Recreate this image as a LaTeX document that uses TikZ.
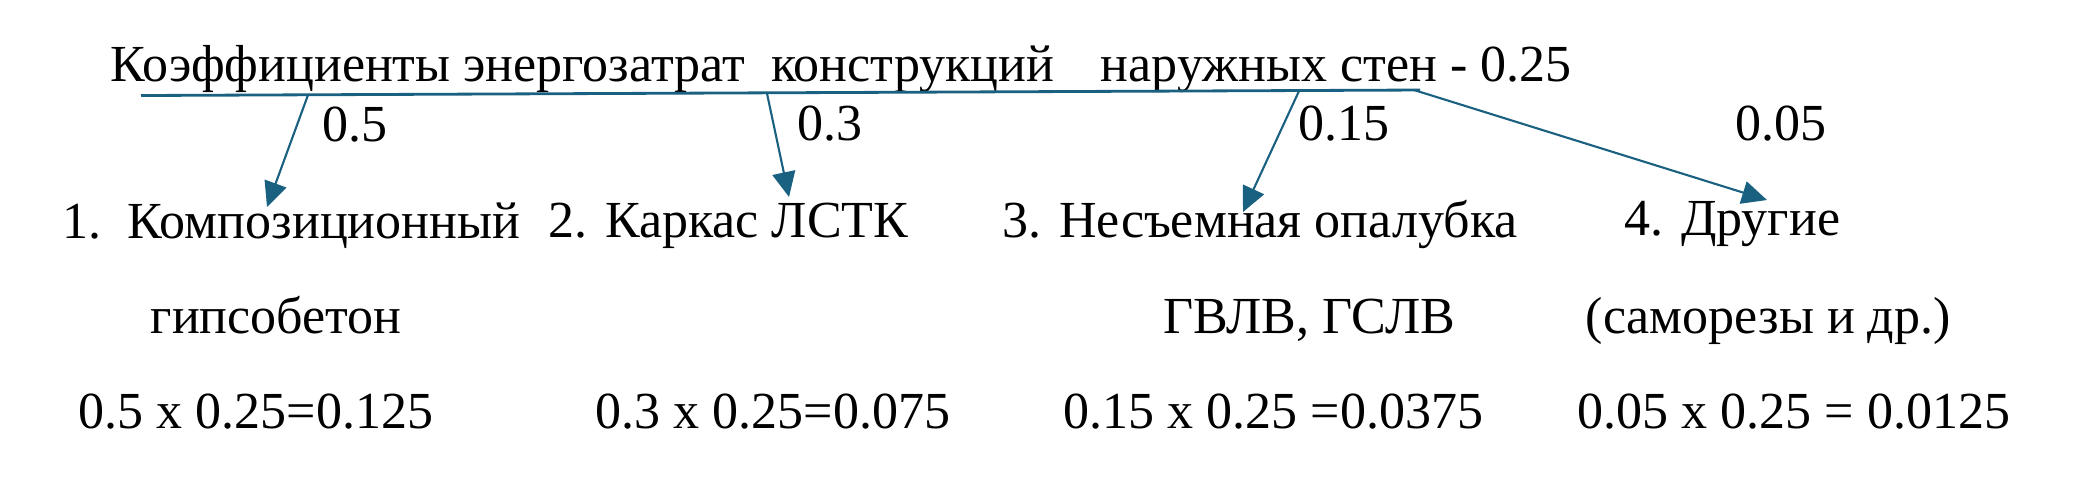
\documentclass[tikz,border=0pt]{standalone}
\usepackage{fontspec}
\setmainfont{Liberation Serif}
\usetikzlibrary{arrows.meta}
\definecolor{linkblue}{RGB}{26,96,128}
\begin{document}
\begin{tikzpicture}[scale=1, txt/.style={inner sep=0pt, anchor=base west, font=\fontsize{14.8pt}{17pt}\selectfont},
	link/.style={-{Triangle[length=0.25cm,width=0.23cm]}, color=linkblue, line width=0.6pt}]
	\useasboundingbox (0,0) rectangle (20.97,-4.78);

	\node[txt] (title) at (1.10,-0.81) {Коэффициенты энергозатрат\ \ конструкций\hspace{0.9em}наружных стен - 0.25};
	\coordinate (lineL) at (1.41,-0.955);
	\coordinate (lineR) at (14.20,-0.90);
	\draw[color=linkblue, line width=0.8pt] (lineL) -- (lineR);

	\coordinate (s1) at (3.08,-0.95);
	\coordinate (s2) at (7.67,-0.935);
	\coordinate (s3) at (12.99,-0.91);
	\coordinate (s4) at (14.14,-0.90);
	\coordinate (t1) at (2.67,-2.07);
	\coordinate (t2) at (7.89,-1.97);
	\coordinate (t3) at (12.43,-2.12);
	\coordinate (t4) at (17.67,-2.00);

	\draw[link] (s1) -- (t1);
	\draw[link] (s2) -- (t2);
	\draw[link] (s3) -- (t3);
	\draw[link] (s4) -- (t4);

	\node[txt] (k1) at (3.22,-1.41) {0.5};
	\node[txt] (k2) at (7.97,-1.40) {0.3};
	\node[txt] (k3) at (12.98,-1.40) {0.15};
	\node[txt] (k4) at (17.35,-1.40) {0.05};

	\node[txt] (item1) at (0.62,-2.38) {1.\ \ Композиционный};
	\node[txt] (item2) at (5.48,-2.37) {2. Каркас ЛСТК};
	\node[txt] (item3) at (10.02,-2.37) {3. Несъемная опалубка};
	\node[txt] (item4) at (16.24,-2.35) {4. Другие};

	\node[txt] (sub1) at (1.50,-3.33) {гипсобетон};
	\node[txt] (sub3) at (11.63,-3.33) {ГВЛВ, ГСЛВ};
	\node[txt] (sub4) at (15.85,-3.33) {(саморезы и др.)};

	\node[txt] (res1) at (0.78,-4.28) {0.5 x 0.25=0.125};
	\node[txt] (res2) at (5.95,-4.28) {0.3 x 0.25=0.075};
	\node[txt] (res3) at (10.63,-4.28) {0.15 x 0.25 =0.0375};
	\node[txt] (res4) at (15.77,-4.28) {0.05 x 0.25 = 0.0125};
\end{tikzpicture}
\end{document}
